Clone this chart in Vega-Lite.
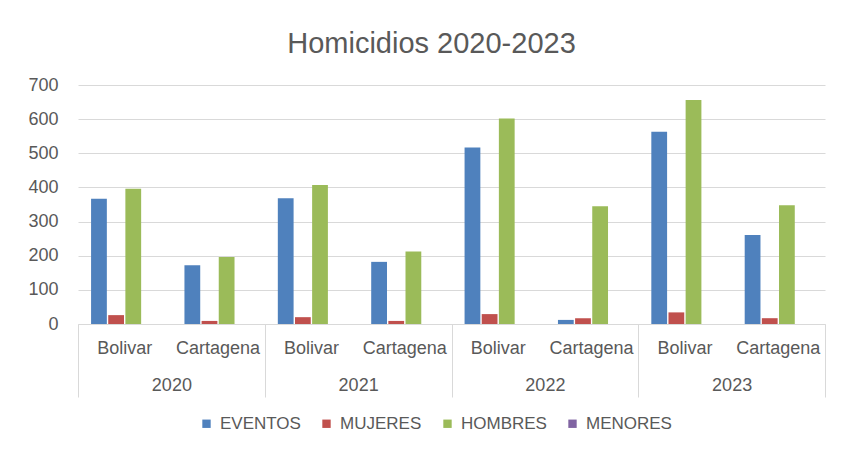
{
  "$schema": "https://vega.github.io/schema/vega-lite/v6.json",
  "autosize": {"type": "none"},
  "width": 747,
  "height": 239,
  "padding": {"left": 78, "top": 85, "right": 17, "bottom": 126},
  "background": "white",
  "config": {
    "font": "Liberation Sans",
    "view": {"stroke": null},
    "axis": {"labelColor": "#595959", "labelFont": "Liberation Sans", "titleColor": "#595959"},
    "legend": {"labelColor": "#595959", "labelFont": "Liberation Sans"}
  },
  "title": {
    "text": "Homicidios 2020-2023",
    "font": "Liberation Sans",
    "fontSize": 29,
    "fontWeight": "normal",
    "color": "#595959",
    "anchor": "middle",
    "frame": "group",
    "orient": "top",
    "baseline": "alphabetic",
    "offset": 21,
    "dx": -20,
    "dy": 27
  },
  "data": {
    "values": [
      {"year": "2020", "grupo": "2020 Bolivar", "serie": "EVENTOS", "valor": 367},
      {"year": "2020", "grupo": "2020 Bolivar", "serie": "MUJERES", "valor": 26},
      {"year": "2020", "grupo": "2020 Bolivar", "serie": "HOMBRES", "valor": 396},
      {"year": "2020", "grupo": "2020 Bolivar", "serie": "MENORES", "valor": 0},
      {"year": "2020", "grupo": "2020 Cartagena", "serie": "EVENTOS", "valor": 172},
      {"year": "2020", "grupo": "2020 Cartagena", "serie": "MUJERES", "valor": 9},
      {"year": "2020", "grupo": "2020 Cartagena", "serie": "HOMBRES", "valor": 196},
      {"year": "2020", "grupo": "2020 Cartagena", "serie": "MENORES", "valor": 0},
      {"year": "2021", "grupo": "2021 Bolivar", "serie": "EVENTOS", "valor": 368},
      {"year": "2021", "grupo": "2021 Bolivar", "serie": "MUJERES", "valor": 20},
      {"year": "2021", "grupo": "2021 Bolivar", "serie": "HOMBRES", "valor": 407},
      {"year": "2021", "grupo": "2021 Bolivar", "serie": "MENORES", "valor": 0},
      {"year": "2021", "grupo": "2021 Cartagena", "serie": "EVENTOS", "valor": 182},
      {"year": "2021", "grupo": "2021 Cartagena", "serie": "MUJERES", "valor": 9},
      {"year": "2021", "grupo": "2021 Cartagena", "serie": "HOMBRES", "valor": 212},
      {"year": "2021", "grupo": "2021 Cartagena", "serie": "MENORES", "valor": 0},
      {"year": "2022", "grupo": "2022 Bolivar", "serie": "EVENTOS", "valor": 517},
      {"year": "2022", "grupo": "2022 Bolivar", "serie": "MUJERES", "valor": 29},
      {"year": "2022", "grupo": "2022 Bolivar", "serie": "HOMBRES", "valor": 602},
      {"year": "2022", "grupo": "2022 Bolivar", "serie": "MENORES", "valor": 0},
      {"year": "2022", "grupo": "2022 Cartagena", "serie": "EVENTOS", "valor": 12},
      {"year": "2022", "grupo": "2022 Cartagena", "serie": "MUJERES", "valor": 17},
      {"year": "2022", "grupo": "2022 Cartagena", "serie": "HOMBRES", "valor": 345},
      {"year": "2022", "grupo": "2022 Cartagena", "serie": "MENORES", "valor": 0},
      {"year": "2023", "grupo": "2023 Bolivar", "serie": "EVENTOS", "valor": 563},
      {"year": "2023", "grupo": "2023 Bolivar", "serie": "MUJERES", "valor": 34},
      {"year": "2023", "grupo": "2023 Bolivar", "serie": "HOMBRES", "valor": 656},
      {"year": "2023", "grupo": "2023 Bolivar", "serie": "MENORES", "valor": 0},
      {"year": "2023", "grupo": "2023 Cartagena", "serie": "EVENTOS", "valor": 261},
      {"year": "2023", "grupo": "2023 Cartagena", "serie": "MUJERES", "valor": 17},
      {"year": "2023", "grupo": "2023 Cartagena", "serie": "HOMBRES", "valor": 348},
      {"year": "2023", "grupo": "2023 Cartagena", "serie": "MENORES", "valor": 0}
    ]
  },
  "encoding": {
    "y": {
      "field": "valor",
      "type": "quantitative",
      "stack": null,
      "scale": {"domain": [0, 700], "nice": false},
      "axis": {
        "title": null,
        "values": [0, 100, 200, 300, 400, 500, 600, 700],
        "domain": false,
        "ticks": false,
        "labelPadding": 20,
        "labelFontSize": 18,
        "gridColor": "#d9d9d9",
        "gridWidth": 1
      }
    }
  },
  "layer": [
    {
      "mark": {"type": "bar"},
      "encoding": {
        "x": {
          "field": "grupo",
          "type": "nominal",
          "scale": {"paddingInner": 0.28, "paddingOuter": 0.14},
          "axis": {
            "title": null,
            "orient": "bottom",
            "labelAngle": 0,
            "labelExpr": "split(datum.label, ' ')[1]",
            "labelFontSize": 18,
            "labelPadding": 15,
            "ticks": false,
            "domain": true,
            "domainColor": "#d9d9d9",
            "grid": false
          }
        },
        "xOffset": {
          "field": "serie",
          "type": "nominal",
          "sort": ["EVENTOS", "MUJERES", "HOMBRES", "MENORES"],
          "scale": {"paddingInner": 0.08}
        },
        "color": {
          "field": "serie",
          "type": "nominal",
          "sort": ["EVENTOS", "MUJERES", "HOMBRES", "MENORES"],
          "scale": {
            "domain": ["EVENTOS", "MUJERES", "HOMBRES", "MENORES"],
            "range": ["#4F81BD", "#C0504D", "#9BBB59", "#8064A2"]
          },
          "legend": {
            "title": null,
            "orient": "none",
            "direction": "horizontal",
            "legendX": 120,
            "legendY": 330,
            "symbolType": "square",
            "symbolSize": 70,
            "symbolStrokeWidth": 0,
            "labelFontSize": 17,
            "labelOffset": 5,
            "columnPadding": 17
          }
        }
      }
    },
    {
      "mark": {"type": "tick", "opacity": 0},
      "encoding": {
        "x": {
          "field": "year",
          "type": "nominal",
          "scale": {"paddingInner": 0, "paddingOuter": 0},
          "axis": {
            "title": null,
            "orient": "bottom",
            "labelAngle": 0,
            "labelFontSize": 18,
            "domain": false,
            "ticks": true,
            "tickBand": "extent",
            "tickSize": 73,
            "tickColor": "#d9d9d9",
            "labelPadding": -21,
            "grid": false
          }
        }
      }
    }
  ],
  "resolve": {"scale": {"x": "independent"}, "axis": {"x": "independent"}}
}
